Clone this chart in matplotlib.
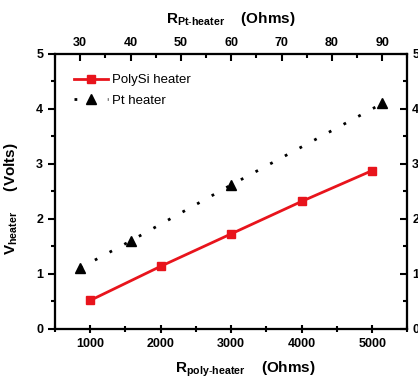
import matplotlib
matplotlib.use("Agg")
from matplotlib import pyplot as plt
from matplotlib.ticker import MultipleLocator

plt.rcParams["font.family"] = "Liberation Sans"
plt.rcParams["mathtext.fontset"] = "custom"
plt.rcParams["mathtext.rm"] = "Liberation Sans"
plt.rcParams["mathtext.bf"] = "Liberation Sans:bold"

# PolySi heater (bottom axis)
r_poly = [1000, 2000, 3000, 4000, 5000]
v_poly = [0.52, 1.14, 1.73, 2.32, 2.88]

# Pt heater (top axis)
r_pt = [30, 40, 60, 90]
v_pt = [1.11, 1.60, 2.62, 4.10]

fig = plt.figure(figsize=(4.18, 3.81), dpi=100)
ax = fig.add_axes([0.1316, 0.1365, 0.843, 0.7218])

line_poly, = ax.plot(r_poly, v_poly, color="#e8141c", lw=2, marker="s",
                     markersize=6, label="PolySi heater")
ax.set_xlim(500, 5500)
ax.set_ylim(0, 5)
ax.xaxis.set_major_locator(MultipleLocator(1000))
ax.xaxis.set_minor_locator(MultipleLocator(500))
ax.yaxis.set_major_locator(MultipleLocator(1))
ax.yaxis.set_minor_locator(MultipleLocator(0.5))
ax.tick_params(axis="x", which="both", direction="inout", labelsize=9)
ax.tick_params(axis="x", which="major", length=6, width=1.5)
ax.tick_params(axis="x", which="minor", length=4, width=1.5)
ax.tick_params(axis="y", which="both", direction="out", labelsize=9, width=1.5)
ax.tick_params(axis="y", which="major", length=5)
ax.tick_params(axis="y", which="minor", length=3)
for lab in ax.get_xticklabels() + ax.get_yticklabels():
    lab.set_fontweight("bold")

ax.set_xlabel(r"$\mathbf{R_{poly\text{-}heater}}$    (Ohms)", fontsize=11,
              fontweight="bold")
ax.xaxis.set_label_coords(0.54, -0.112)
ax.set_ylabel(r"$\mathbf{V_{heater}}$     (Volts)", fontsize=11,
              fontweight="bold")
ax.yaxis.set_label_coords(-0.1, 0.475)

# right axis
axr = ax.twinx()
axr.set_ylim(0, 5)
axr.yaxis.set_major_locator(MultipleLocator(1))
axr.yaxis.set_minor_locator(MultipleLocator(0.5))
axr.tick_params(axis="y", which="both", direction="in", labelsize=9, width=1.5)
axr.tick_params(axis="y", which="major", length=5)
axr.tick_params(axis="y", which="minor", length=3)
for lab in axr.get_yticklabels():
    lab.set_fontweight("bold")

# top axis
axt = ax.twiny()
line_pt, = axt.plot(r_pt, v_pt, color="black", lw=2, linestyle=(0, (1, 5)),
                    marker="^", markersize=7, label="Pt heater")
axt.set_xlim(25, 95)
axt.set_ylim(0, 5)
axt.xaxis.set_major_locator(MultipleLocator(10))
axt.xaxis.set_minor_locator(MultipleLocator(5))
axt.tick_params(axis="x", which="both", direction="in", labelsize=9, width=1.5)
axt.tick_params(axis="x", which="major", length=5)
axt.tick_params(axis="x", which="minor", length=3)
for lab in axt.get_xticklabels():
    lab.set_fontweight("bold")
axt.set_xlabel(r"$\mathbf{R_{Pt\text{-}heater}}$    (Ohms)", fontsize=11,
               fontweight="bold", labelpad=10)

for a in (ax, axr, axt):
    for s in a.spines.values():
        s.set_linewidth(1.5)

axt.legend(handles=[line_poly, line_pt], loc="upper left", frameon=False,
           fontsize=9.5, bbox_to_anchor=(0.02, 0.97), handlelength=2.6,
           handletextpad=0.3, labelspacing=0.6)

fig.savefig("out.png", dpi=100)
